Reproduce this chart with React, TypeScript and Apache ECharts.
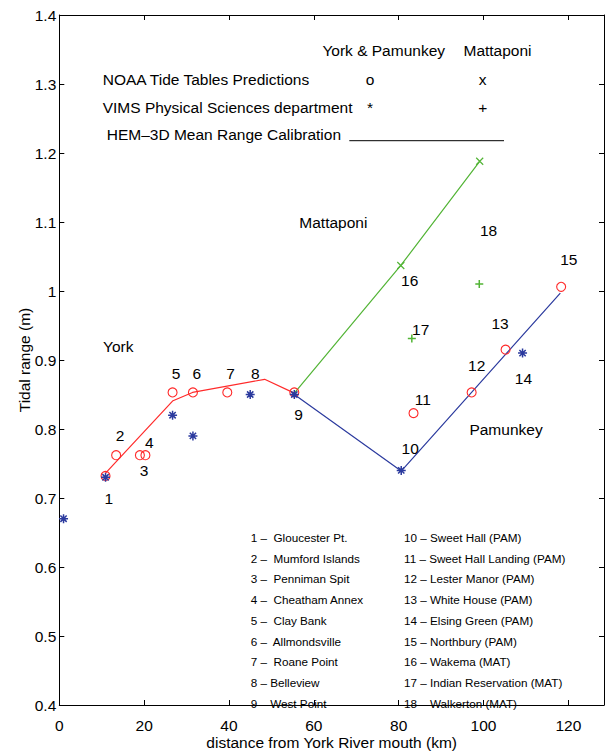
import React, { useEffect, useRef } from "react";
import * as echarts from "echarts";

// ---- data (km from York River mouth, tidal range m) ----
const redCircles: number[][] = [
  [10.9, 0.732], [13.4, 0.762], [19.0, 0.762], [20.3, 0.762], [26.7, 0.853],
  [31.5, 0.853], [39.6, 0.853], [55.4, 0.853], [83.5, 0.823], [97.2, 0.853],
  [105.2, 0.915], [118.3, 1.006],
];
const blueStars: number[][] = [
  [1.0, 0.67], [10.9, 0.73], [26.7, 0.82], [31.5, 0.79], [45.0, 0.85],
  [55.4, 0.85], [80.6, 0.74], [109.2, 0.91],
];
const greenCrosses: number[][] = [[80.5, 1.037], [99.1, 1.188]];
const greenPluses: number[][] = [[83.1, 0.931], [99.0, 1.010]];

const yorkLine: number[][] = [
  [10.9, 0.736], [26.8, 0.841], [31.4, 0.853], [48.4, 0.872], [55.4, 0.852],
];
const pamunkeyLine: number[][] = [[55.4, 0.850], [80.6, 0.739], [118.1, 0.997]];
const mattaponiLine: number[][] = [[55.4, 0.852], [80.5, 1.037], [99.1, 1.188]];

const pointLabels: { value: number[]; name: string }[] = [
  { value: [11.7, 0.700], name: "1" },
  { value: [14.3, 0.791], name: "2" },
  { value: [20.0, 0.740], name: "3" },
  { value: [21.2, 0.781], name: "4" },
  { value: [27.5, 0.881], name: "5" },
  { value: [32.4, 0.881], name: "6" },
  { value: [40.4, 0.881], name: "7" },
  { value: [46.2, 0.881], name: "8" },
  { value: [56.4, 0.821], name: "9" },
  { value: [82.7, 0.772], name: "10" },
  { value: [85.7, 0.843], name: "11" },
  { value: [98.4, 0.892], name: "12" },
  { value: [103.9, 0.953], name: "13" },
  { value: [109.4, 0.873], name: "14" },
  { value: [120.1, 1.046], name: "15" },
  { value: [82.6, 1.015], name: "16" },
  { value: [85.2, 0.944], name: "17" },
  { value: [101.2, 1.088], name: "18" },
  { value: [13.9, 0.919], name: "York" },
  { value: [64.6, 1.100], name: "Mattaponi" },
  { value: [105.3, 0.800], name: "Pamunkey" },
];

const stationsLeft: string[] = [
  "1 –  Gloucester Pt.", "2 –  Mumford Islands", "3 –  Penniman Spit",
  "4 –  Cheatham Annex", "5 –  Clay Bank", "6 –  Allmondsville",
  "7 –  Roane Point", "8 – Belleview", "9 – West Point",
];
const stationsRight: string[] = [
  "10 – Sweet Hall (PAM)", "11 – Sweet Hall Landing (PAM)", "12 – Lester Manor (PAM)",
  "13 – White House (PAM)", "14 – Elsing Green (PAM)", "15 – Northbury (PAM)",
  "16 – Wakema (MAT)", "17 – Indian Reservation (MAT)", "18 – Walkerton (MAT)",
];

const legendHeaders: string[] = ["York & Pamunkey", "Mattaponi"];
const legendRows: string[] = [
  "NOAA Tide Tables Predictions",
  "VIMS Physical Sciences department",
  "HEM–3D Mean Range Calibration",
];

const xTitle = "distance from York River mouth (km)";
const yTitle = "Tidal range (m)";

const FONT = "'Liberation Sans', Arial, Helvetica, sans-serif";
const RED = "#ff2a2a";
const BLUE = "#2b3a9e";
const GREEN = "#52b435";

const STAR = "path://M5,0L5,10M0,5L10,5M1.5,1.5L8.5,8.5M1.5,8.5L8.5,1.5";
const CROSS = "path://M0,0L10,10M0,10L10,0";
const PLUS = "path://M5,0L5,10M0,5L10,5";

export default function App() {
  const ref = useRef<HTMLDivElement>(null);
  useEffect(() => {
    if (!ref.current) return;
    const chart = echarts.init(ref.current, null, { renderer: "svg" });
    const txt = (text: string, x: number, y: number, size = 15.5, align = "left") => ({
      type: "text",
      x,
      y,
      style: { text, fill: "#000", font: `${size}px ${FONT}`, textAlign: align, textVerticalAlign: "middle" },
      z: 10,
    });
    const graphics: any[] = [
      txt(legendHeaders[0], 383.7, 50.7, 15.5, "center"),
      txt(legendHeaders[1], 497.5, 50.7, 15.5, "center"),
      txt(legendRows[0], 102.7, 79.3),
      txt(legendRows[1], 102.7, 107.3),
      txt(legendRows[2], 106.7, 134),
      txt("o", 370, 79.3, 15.5, "center"),
      txt("x", 482.7, 79.3, 15.5, "center"),
      txt("*", 370, 107.3, 15.5, "center"),
      txt("+", 482.7, 107.3, 15.5, "center"),
      {
        type: "line",
        shape: { x1: 349.3, y1: 140.7, x2: 504, y2: 140.7 },
        style: { stroke: "#000", lineWidth: 1 },
        z: 10,
      },
    ];
    stationsLeft.forEach((s, i) => graphics.push(txt(s, 250.7, 537.3 + i * 20.75, 11.7)));
    stationsRight.forEach((s, i) => graphics.push(txt(s, 404, 537.3 + i * 20.75, 11.7)));

    const axisCommon = {
      axisLine: { show: true, onZero: false, lineStyle: { color: "#000", width: 1 } },
      axisTick: { show: true, inside: true, length: 5, lineStyle: { color: "#000" } },
      splitLine: { show: false },
    };

    chart.setOption({
      animation: false,
      backgroundColor: "#fff",
      textStyle: { fontFamily: FONT },
      grid: { left: 59.3, right: 4, top: 15, bottom: 45, containLabel: false },
      xAxis: [
        {
          type: "value", min: 0, max: 128.4, interval: 20, position: "bottom",
          ...axisCommon,
          axisLabel: {
            color: "#000", fontSize: 15.5, margin: 12, fontFamily: FONT,
            formatter: (v: number) => (Math.abs(v % 20) < 1e-6 ? String(v) : ""),
          },
          name: xTitle, nameLocation: "middle", nameGap: 29, nameMoveOverlap: false,
          nameTextStyle: { color: "#000", fontSize: 15.5, fontFamily: FONT },
        },
        {
          type: "value", min: 0, max: 128.4, interval: 20, position: "top",
          ...axisCommon, axisLabel: { show: false },
        },
      ],
      yAxis: [
        {
          type: "value", min: 0.4, max: 1.4, interval: 0.1, position: "left",
          ...axisCommon,
          axisLabel: { color: "#000", fontSize: 15.5, margin: 3, fontFamily: FONT },
          name: yTitle, nameLocation: "middle", nameGap: 27, nameRotate: 90, nameMoveOverlap: false,
          nameTextStyle: { color: "#000", fontSize: 15.5, fontFamily: FONT },
        },
        {
          type: "value", min: 0.4, max: 1.4, interval: 0.1, position: "right",
          ...axisCommon, axisLabel: { show: false },
        },
      ],
      graphic: graphics,
      series: [
        { type: "line", data: yorkLine, symbol: "none", lineStyle: { color: RED, width: 1.2 }, z: 2 },
        { type: "line", data: pamunkeyLine, symbol: "none", lineStyle: { color: BLUE, width: 1.2 }, z: 2 },
        { type: "line", data: mattaponiLine, symbol: "none", lineStyle: { color: GREEN, width: 1.2 }, z: 2 },
        {
          type: "scatter", data: redCircles, symbol: "circle", symbolSize: 9,
          itemStyle: { color: "transparent", borderColor: RED, borderWidth: 1.1, opacity: 1 }, z: 3,
        },
        {
          type: "scatter", data: blueStars, symbol: STAR, symbolSize: 9,
          itemStyle: { color: "transparent", borderColor: BLUE, borderWidth: 1.5, opacity: 1 }, z: 4,
        },
        {
          type: "scatter", data: greenCrosses, symbol: CROSS, symbolSize: 7,
          itemStyle: { color: "transparent", borderColor: GREEN, borderWidth: 1.2, opacity: 1 }, z: 4,
        },
        {
          type: "scatter", data: greenPluses, symbol: PLUS, symbolSize: 8,
          itemStyle: { color: "transparent", borderColor: GREEN, borderWidth: 1.5, opacity: 1 }, z: 4,
        },
        {
          type: "scatter", data: pointLabels, symbolSize: 0, silent: true, z: 5,
          itemStyle: { opacity: 1 },
          label: {
            show: true, position: "inside", formatter: "{b}", color: "#000",
            fontSize: 15.5, fontFamily: FONT, align: "center", verticalAlign: "middle",
          },
        },
      ],
    });
    return () => chart.dispose();
  }, []);
  return (
    <div
      ref={ref}
      style={{ position: "absolute", left: 0, top: 0, width: 608, height: 755, background: "#fff" }}
    />
  );
}
